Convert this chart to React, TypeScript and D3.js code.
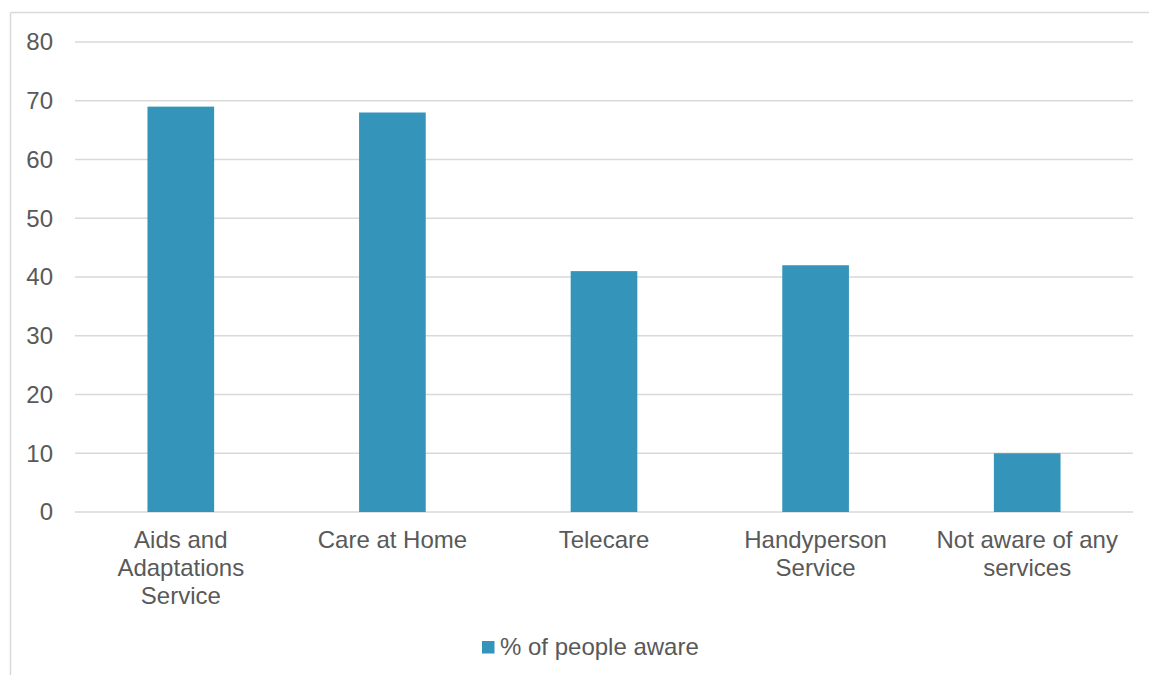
import React from "react";
import * as d3 from "d3";

const categories: string[] = [
  "Aids and Adaptations Service",
  "Care at Home",
  "Telecare",
  "Handyperson Service",
  "Not aware of any services",
];
const values: number[] = [69, 68, 41, 42, 10];
const yTicks: number[] = [0, 10, 20, 30, 40, 50, 60, 70, 80];
const seriesName = "% of people aware";

const W = 1149;
const H = 675;
const FONT = "'Liberation Sans', Arial, sans-serif";
const TEXT = "#595959";
const GRID = "#D9D9D9";
const BAR = "#3494BA";

let ctx: CanvasRenderingContext2D | null = null;
function measure(t: string, size: number): number {
  if (!ctx) {
    const c = document.createElement("canvas");
    ctx = c.getContext("2d");
  }
  if (!ctx) return t.length * size * 0.5;
  ctx.font = `${size}px ${FONT}`;
  return ctx.measureText(t).width;
}

function wrap(text: string, maxW: number, size: number): string[] {
  const words = text.split(" ");
  const lines: string[] = [];
  let cur = "";
  for (const w of words) {
    const test = cur ? cur + " " + w : w;
    if (cur && measure(test, size) > maxW) {
      lines.push(cur);
      cur = w;
    } else {
      cur = test;
    }
  }
  if (cur) lines.push(cur);
  return lines;
}

export default function App() {
  const left = 75;
  const right = 1133;
  const top = 42;
  const bottom = 512;

  const x = d3.scaleBand<string>().domain(categories).range([left, right]).paddingInner(0.685).paddingOuter(0.3425);
  const xc = d3.scaleBand<string>().domain(categories).range([left, right]);
  const y = d3.scaleLinear().domain([0, 80]).range([bottom, top]);
  const fs = 24;

  return (
    <svg width={W} height={H} style={{ position: "absolute", left: 0, top: 0, display: "block" }} fontFamily={FONT}>
      <rect x={0} y={0} width={W} height={H} fill="#fff" />
      {/* frame */}
      <line x1={10.5} y1={12.5} x2={W} y2={12.5} stroke={GRID} strokeWidth={1.5} />
      <line x1={10.5} y1={12.5} x2={10.5} y2={H} stroke={GRID} strokeWidth={1.5} />
      {/* gridlines */}
      {yTicks.map((t) => (
        <g key={t}>
          <line x1={left} x2={right} y1={y(t)} y2={y(t)} stroke={GRID} strokeWidth={1.5} />
          <text x={53} y={y(t)} dy="0.35em" textAnchor="end" fontSize={fs} fill={TEXT}>
            {t}
          </text>
        </g>
      ))}
      {/* bars */}
      {categories.map((c, i) => (
        <rect key={c} x={x(c)} y={y(values[i])} width={x.bandwidth()} height={y(0) - y(values[i])} fill={BAR} />
      ))}
      {/* category labels */}
      {categories.map((c) => {
        const lines = wrap(c, 200, fs);
        const cx = (xc(c) as number) + xc.bandwidth() / 2;
        return (
          <text key={c} x={cx} y={548} textAnchor="middle" fontSize={fs} fill={TEXT}>
            {lines.map((l, j) => (
              <tspan key={j} x={cx} dy={j === 0 ? 0 : 28}>
                {l}
              </tspan>
            ))}
          </text>
        );
      })}
      {/* legend */}
      <rect x={482} y={641} width={12.5} height={12.5} fill={BAR} />
      <text x={500} y={655} fontSize={fs} fill={TEXT}>
        {seriesName}
      </text>
    </svg>
  );
}
